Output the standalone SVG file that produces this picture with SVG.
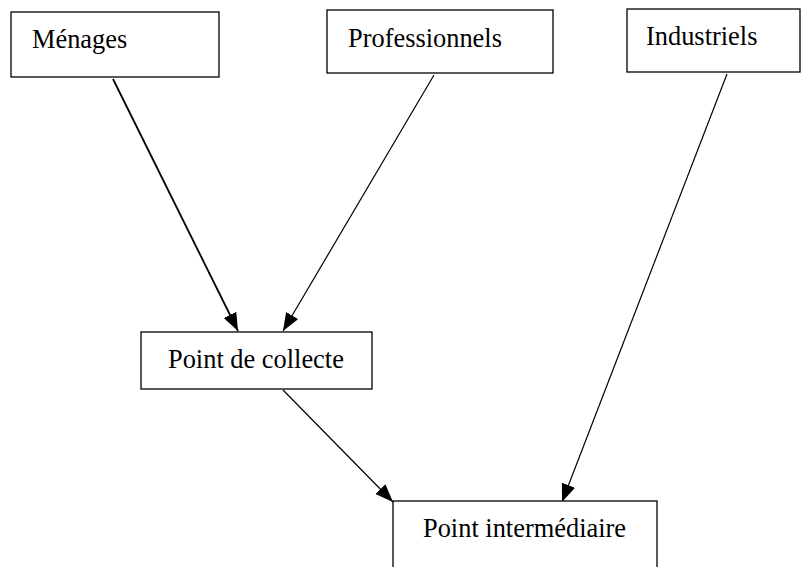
<svg xmlns="http://www.w3.org/2000/svg" width="809" height="567" viewBox="0 0 809 567">
<style>
.box{fill:#fff;stroke:#000;stroke-width:1.3}
.lbl{font-family:"Liberation Serif","Times New Roman",serif;font-size:26.4px;fill:#000}
.con{stroke:#000;stroke-width:1.2;fill:none;marker-end:url(#ah)}
</style>
<defs>
<marker id="ah" markerUnits="userSpaceOnUse" markerWidth="20" markerHeight="16" refX="18" refY="7" orient="auto">
<path d="M0,0 L18,7 L0,14 Z" fill="#000"/>
</marker>
</defs>
<rect width="809" height="567" fill="#fff"/>
<g id="connectors">
<path class="con" d="M113,79 L238,331" style="stroke-width:1.8"/>
<path class="con" d="M434,75 L283,331"/>
<path class="con" d="M727,74 L562,502"/>
<path class="con" d="M283,390 L393,502"/>
</g>
<g id="menages">
<rect class="box" x="11" y="12" width="208" height="65"/>
<text class="lbl" x="32" y="48">Ménages</text>
</g>
<g id="professionnels">
<rect class="box" x="327" y="10" width="226" height="63"/>
<text class="lbl" x="348" y="47">Professionnels</text>
</g>
<g id="industriels">
<rect class="box" x="627" y="9" width="173" height="63"/>
<text class="lbl" x="646" y="45">Industriels</text>
</g>
<g id="collecte">
<rect class="box" x="141" y="332" width="231" height="57"/>
<text class="lbl" x="168" y="368">Point de collecte</text>
</g>
<g id="intermediaire">
<rect class="box" x="393" y="501" width="264" height="80"/>
<text class="lbl" x="423" y="537">Point intermédiaire</text>
</g>
</svg>
